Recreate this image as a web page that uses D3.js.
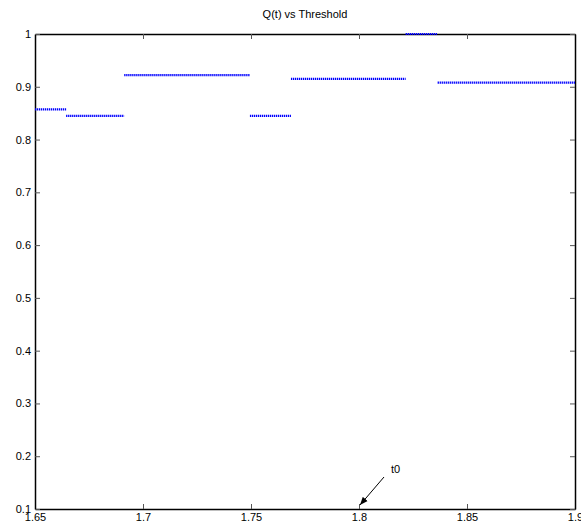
<!DOCTYPE html>
<html><head><meta charset="utf-8">
<script src="https://cdn.jsdelivr.net/npm/d3@7"></script>
<style>body{margin:0;background:#fff}svg{display:block}text{font-family:"Liberation Sans",Arial,sans-serif}</style>
</head><body>
<script>
const segStart = [1.65, 1.6644, 1.6913, 1.7495, 1.7685, 1.8216, 1.8364];
const segEnd   = [1.6644, 1.6913, 1.7495, 1.7685, 1.8216, 1.8364, 1.9];
const segValue = [0.857, 0.845, 0.922, 0.845, 0.915, 1.0, 0.908];
const xTicks = [1.65, 1.7, 1.75, 1.8, 1.85, 1.9];
const yTicks = [0.1, 0.2, 0.3, 0.4, 0.5, 0.6, 0.7, 0.8, 0.9, 1];
const annotation = {label: "t0", x: 1.8, y: 0.1};

const W = 581, H = 529;
const L = 35, R = 575, T = 34, B = 509;
const svg = d3.select("body").append("svg").attr("width", W).attr("height", H);
const x = d3.scaleLinear().domain([1.65, 1.9]).range([L, R]);
const y = d3.scaleLinear().domain([0.1, 1]).range([B, T]);
const fmt = d => String(+d.toFixed(2));

// axes
const tl = 5;
const gx = svg.append("g").attr("transform", `translate(0,${B})`)
  .call(d3.axisBottom(x).tickValues(xTicks).tickFormat(fmt).tickSizeInner(-tl).tickSizeOuter(0).tickPadding(6));
const gxt = svg.append("g").attr("transform", `translate(0,${T})`)
  .call(d3.axisTop(x).tickValues(xTicks).tickFormat("").tickSizeInner(-tl).tickSizeOuter(0));
const gy = svg.append("g").attr("transform", `translate(${L},0)`)
  .call(d3.axisLeft(y).tickValues(yTicks).tickFormat(fmt).tickSizeInner(-tl).tickSizeOuter(0).tickPadding(4));
const gyr = svg.append("g").attr("transform", `translate(${R},0)`)
  .call(d3.axisRight(y).tickValues(yTicks).tickFormat("").tickSizeInner(-tl).tickSizeOuter(0));
[gx, gxt, gy, gyr].forEach(g => {
  g.select(".domain").attr("stroke", "#000").attr("stroke-width", 1.5);
  g.selectAll(".tick line").attr("stroke", "#555");
  g.selectAll("text").attr("font-size", 11).attr("fill", "#000").style("font-family", '"Liberation Sans",Arial,sans-serif');
});
gx.selectAll("text").attr("dy", "0.5em");

// data
const segs = segStart.map((s, i) => ({s, e: segEnd[i], v: segValue[i]}));
svg.append("g").selectAll("line").data(segs).join("line")
  .attr("x1", d => x(d.s)).attr("x2", d => x(d.e))
  .attr("y1", d => y(d.v)).attr("y2", d => y(d.v))
  .attr("stroke", "#0000ff").attr("stroke-width", 2.2)
  .attr("stroke-dasharray", "1.3,0.7");

// title
svg.append("text").attr("x", (L + R) / 2).attr("y", 18).attr("text-anchor", "middle")
  .attr("font-size", 11).text("Q(t) vs Threshold");

// annotation arrow
svg.append("defs").append("marker").attr("id", "ah").attr("viewBox", "0 0 10 10")
  .attr("refX", 10).attr("refY", 5).attr("markerWidth", 8).attr("markerHeight", 8)
  .attr("markerUnits", "userSpaceOnUse").attr("orient", "auto")
  .append("path").attr("d", "M0,1 L10,5 L0,9 Z").attr("fill", "#000");
const ax = x(annotation.x), ay = y(annotation.y);
svg.append("line").attr("x1", ax + 25).attr("y1", ay - 32).attr("x2", ax + 1).attr("y2", ay - 4)
  .attr("stroke", "#000").attr("stroke-width", 1).attr("marker-end", "url(#ah)");
svg.append("text").attr("x", ax + 32).attr("y", ay - 36).attr("font-size", 11).text(annotation.label);
</script>
</body></html>
